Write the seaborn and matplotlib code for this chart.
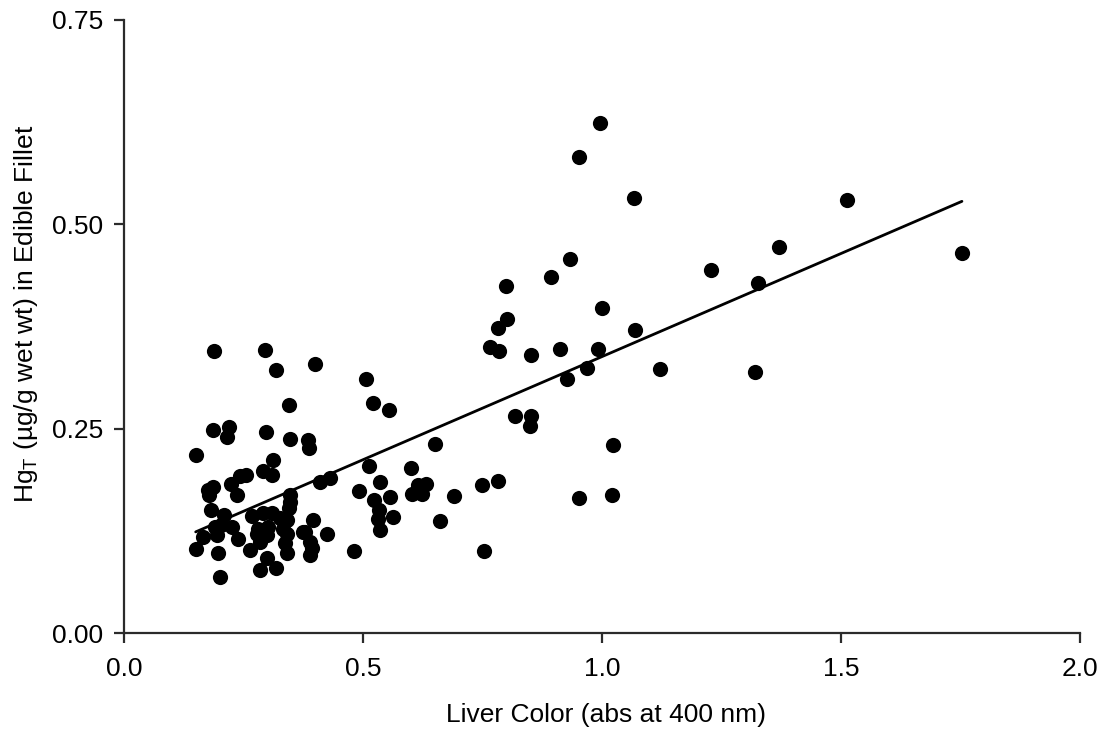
import numpy as np
import pandas as pd
import matplotlib
matplotlib.use("Agg")
import matplotlib.pyplot as plt
import seaborn as sns

# liver colour (abs at 400 nm) vs total Hg in fillet (ug/g wet wt)
liver_abs = [
    0.996, 0.952, 1.067, 1.513, 1.753, 1.370, 1.228, 1.326, 0.933, 0.894,
    0.799, 0.801, 0.782, 1.000, 1.069, 0.766, 0.785, 0.851, 0.912, 0.992,
    0.969, 0.927, 1.121, 1.320, 0.818, 0.851, 0.849, 1.023, 0.952, 1.021,
    0.782, 0.749, 0.753, 0.651, 0.662, 0.690,
    0.400, 0.506, 0.520, 0.555, 0.513, 0.536, 0.600, 0.616, 0.632, 0.602,
    0.623, 0.492, 0.556, 0.523, 0.533, 0.532, 0.563, 0.536, 0.481,
    0.386, 0.388, 0.410, 0.432, 0.425, 0.396, 0.379, 0.389, 0.393, 0.389,
    0.188, 0.294, 0.318, 0.346, 0.187, 0.220, 0.215, 0.297, 0.347, 0.150,
    0.311, 0.291, 0.310, 0.255, 0.243, 0.223, 0.237, 0.187, 0.176, 0.178,
    0.347, 0.347, 0.346, 0.182, 0.210, 0.267, 0.291, 0.309, 0.326, 0.340,
    0.204, 0.190, 0.225, 0.281, 0.302, 0.333, 0.166, 0.194, 0.239, 0.278,
    0.299, 0.340, 0.375, 0.150, 0.197, 0.264, 0.285, 0.337, 0.340, 0.299,
    0.285, 0.319, 0.201,
]
hg_fillet = [
    0.623, 0.582, 0.532, 0.529, 0.465, 0.472, 0.444, 0.428, 0.457, 0.435,
    0.424, 0.384, 0.373, 0.398, 0.371, 0.350, 0.345, 0.340, 0.347, 0.347,
    0.324, 0.311, 0.323, 0.319, 0.266, 0.266, 0.253, 0.230, 0.165, 0.169,
    0.186, 0.181, 0.101, 0.231, 0.137, 0.168,
    0.329, 0.311, 0.282, 0.273, 0.204, 0.185, 0.202, 0.181, 0.182, 0.170,
    0.170, 0.174, 0.167, 0.163, 0.151, 0.140, 0.142, 0.126, 0.101,
    0.236, 0.226, 0.185, 0.190, 0.122, 0.139, 0.124, 0.112, 0.104, 0.096,
    0.345, 0.346, 0.322, 0.279, 0.249, 0.252, 0.240, 0.246, 0.238, 0.218,
    0.212, 0.198, 0.194, 0.194, 0.192, 0.183, 0.169, 0.179, 0.175, 0.169,
    0.169, 0.161, 0.153, 0.151, 0.145, 0.143, 0.147, 0.147, 0.141, 0.139,
    0.133, 0.130, 0.130, 0.128, 0.130, 0.128, 0.118, 0.120, 0.116, 0.122,
    0.120, 0.122, 0.124, 0.103, 0.098, 0.102, 0.112, 0.110, 0.098, 0.092,
    0.078, 0.080, 0.069,
]

df = pd.DataFrame({"liver": liver_abs, "hg": hg_fillet})

sns.set_style("white")
plt.rcParams["font.family"] = ["Liberation Sans", "DejaVu Sans"]
plt.rcParams["text.color"] = "black"
plt.rcParams["axes.labelcolor"] = "black"
plt.rcParams["xtick.color"] = "black"
plt.rcParams["ytick.color"] = "black"

fig = plt.figure(figsize=(11.07, 7.36), dpi=100)
ax = fig.add_axes([0.112, 0.1393, 0.8636, 0.8342])

sns.regplot(data=df, x="liver", y="hg", ax=ax, ci=None, truncate=True,
            scatter_kws={"s": 120, "color": "black", "linewidths": 0, "alpha": 1},
            line_kws={"color": "black", "lw": 2})

ax.set_xlim(0, 2.0)
ax.set_ylim(0, 0.75)
ax.set_xticks(np.arange(0, 2.01, 0.5))
ax.set_yticks([0, 0.25, 0.5, 0.75])
ax.xaxis.set_major_formatter(matplotlib.ticker.FormatStrFormatter("%.1f"))
ax.yaxis.set_major_formatter(matplotlib.ticker.FormatStrFormatter("%.2f"))

sns.despine(ax=ax)
for side in ["left", "bottom"]:
    ax.spines[side].set_color("#2b2b2b")
    ax.spines[side].set_linewidth(1.6)
ax.tick_params(axis="both", direction="out", length=7, width=1.6, color="#2b2b2b",
               labelsize=19, left=True, bottom=True)
ax.tick_params(axis="x", pad=10)
ax.tick_params(axis="y", pad=8)

ax.set_xlabel("Liver Color (abs at 400 nm)", fontsize=19)
ax.set_ylabel("Hg$_\\mathregular{T}$ (µg/g wet wt) in Edible Fillet", fontsize=19)
ax.xaxis.set_label_coords(0.504, -0.113)
ax.yaxis.set_label_coords(-0.088, 0.52)

fig.savefig("out.png", dpi=100)
